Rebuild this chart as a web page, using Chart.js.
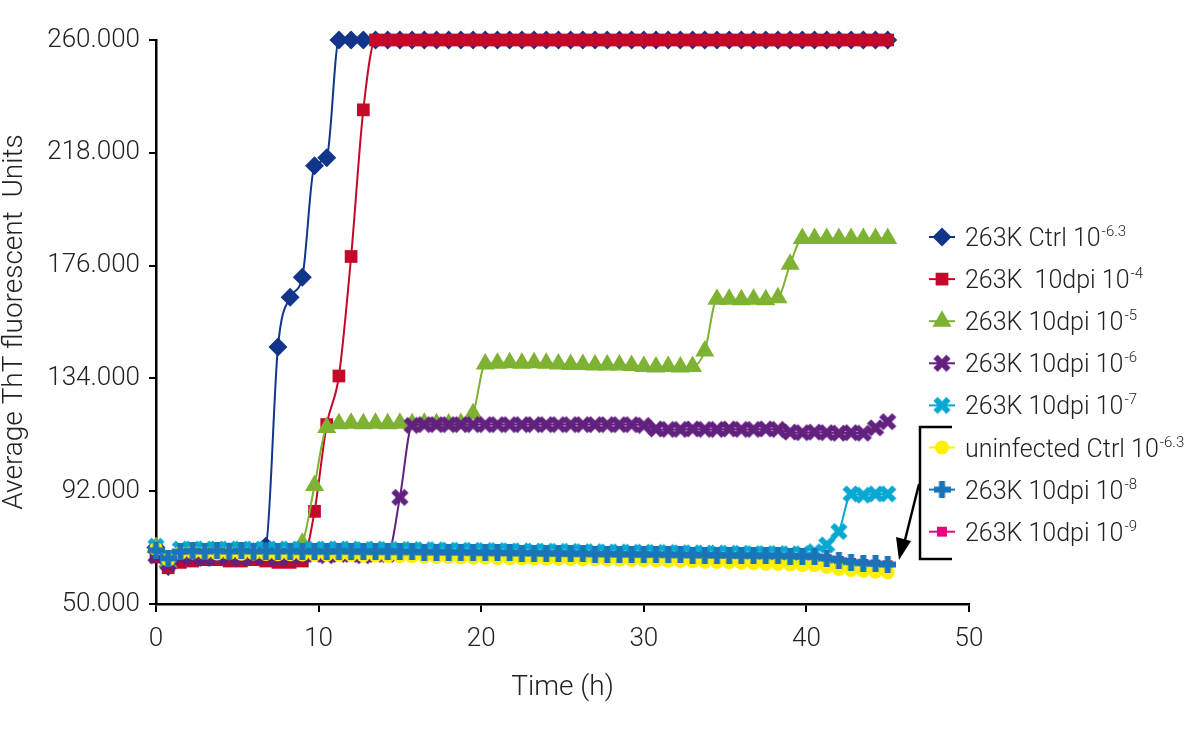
<!DOCTYPE html>
<html>
<head>
<meta charset="utf-8">
<script src="https://cdn.jsdelivr.net/npm/chart.js@4.4.1/dist/chart.umd.min.js"></script>
<style>
  body { margin: 0; background: #fff; }
  #wrap { width: 1200px; height: 732px; position: relative; }
</style>
</head>
<body>
<div id="wrap"><canvas id="thtChart"></canvas></div>
<script>
// time points (h), one reading every 45 min
const times = [0, 0.75, 1.5, 2.25, 3, 3.75, 4.5, 5.25, 6, 6.75, 7.5, 8.25, 9, 9.75, 10.5, 11.25, 12, 12.75, 13.5, 14.25,
  15, 15.75, 16.5, 17.25, 18, 18.75, 19.5, 20.25, 21, 21.75, 22.5, 23.25, 24, 24.75, 25.5, 26.25, 27, 27.75, 28.5, 29.25,
  30, 30.75, 31.5, 32.25, 33, 33.75, 34.5, 35.25, 36, 36.75, 37.5, 38.25, 39, 39.75, 40.5, 41.25, 42, 42.75, 43.5, 44.25, 45];

const seriesNames = ['263K Ctrl 10', '263K  10dpi 10', '263K 10dpi 10', '263K 10dpi 10', '263K 10dpi 10',
  'uninfected Ctrl 10', '263K 10dpi 10', '263K 10dpi 10'];
const seriesExponents = ['-6.3', '-4', '-5', '-6', '-7', '-6.3', '-8', '-9'];

const ctrl63 = [71000, 64000, 68500, 69500, 69000, 69500, 69500, 69000, 69500, 71500, 145700, 164200, 171700, 213200, 216200,
  260000, 260000, 260000, 260000, 260000, 260000, 260000, 260000, 260000, 260000, 260000, 260000, 260000, 260000, 260000,
  260000, 260000, 260000, 260000, 260000, 260000, 260000, 260000, 260000, 260000, 260000, 260000, 260000, 260000, 260000,
  260000, 260000, 260000, 260000, 260000, 260000, 260000, 260000, 260000, 260000, 260000, 260000, 260000, 260000, 260000, 260000];

const dpi4 = [67500, 63500, 65500, 66000, 66500, 66500, 66000, 66000, 66500, 66000, 65500, 65500, 66000, 84500, 116800,
  134900, 179400, 234000, 260000, 260000, 260000, 260000, 260000, 260000, 260000, 260000, 260000, 260000, 260000, 260000,
  260000, 260000, 260000, 260000, 260000, 260000, 260000, 260000, 260000, 260000, 260000, 260000, 260000, 260000, 260000,
  260000, 260000, 260000, 260000, 260000, 260000, 260000, 260000, 260000, 260000, 260000, 260000, 260000, 260000, 260000, 260000];

const dpi5 = [71000, 65500, 68500, 69000, 68500, 69000, 68500, 69000, 68500, 69000, 68500, 69000, 72600, 94100, 115700,
  117100, 117300, 117100, 117300, 117100, 117300, 117100, 117300, 117100, 117000, 117200, 120800, 139400, 139600, 139800,
  139600, 139800, 139600, 139400, 139200, 139200, 139000, 139000, 139000, 138800, 138400, 138200, 138400, 138200, 138400,
  144200, 163500, 163500, 163300, 163500, 163300, 164000, 176500, 186100, 186100, 186100, 186100, 186100, 186100, 186100, 186100];

const dpi6 = [68000, 65000, 67500, 67500, 67000, 67500, 67500, 67000, 67500, 67500, 67000, 67500, 68000, 68500, 68000,
  68500, 68500, 68000, 68500, 68500, 89700, 116500, 116800, 116800, 116800, 116800, 116800, 116800, 116800, 116800,
  116800, 116800, 116800, 116800, 116800, 116800, 116800, 116800, 116800, 116800, 116500, 115200, 115000, 115000, 115200,
  115000, 115000, 115200, 115000, 115000, 115200, 115000, 114000, 113800, 114000, 113800, 113600, 113800, 113600, 115600, 117900];

const dpi7 = [71500, 67500, 70500, 70500, 70500, 70500, 70500, 70500, 70500, 70500, 70500, 70500, 70500, 70500, 70500,
  70500, 70500, 70300, 70500, 70300, 70300, 70300, 70200, 70200, 70100, 70000, 70000, 69900, 69900, 69800,
  69800, 69700, 69700, 69600, 69600, 69500, 69500, 69400, 69400, 69300, 69300, 69200, 69200, 69100, 69100,
  69000, 69000, 68900, 68900, 68800, 68800, 68800, 68700, 68700, 69500, 72000, 77000, 91000, 90500, 91000, 91000];

const uninfected = [70500, 66500, 69000, 69200, 69000, 68800, 68900, 68700, 68800, 68600, 68500, 68500, 68400, 68300, 68300,
  68200, 68200, 68000, 68000, 67900, 67800, 67800, 67600, 67500, 67500, 67300, 67200, 67200, 67000, 67000,
  66900, 66900, 66800, 66800, 66700, 66600, 66600, 66500, 66500, 66400, 66300, 66200, 66100, 66000, 65900,
  65700, 65600, 65500, 65300, 65200, 65000, 64900, 64700, 64500, 64400, 63800, 63000, 62600, 62300, 62000, 61700];

const dpi8 = [70000, 67000, 69500, 69800, 69600, 69800, 69600, 69800, 69600, 69700, 69600, 69700, 69500, 69600, 69500,
  69600, 69500, 69500, 69400, 69500, 69400, 69400, 69300, 69300, 69200, 69200, 69100, 69100, 69000, 69000,
  68900, 68900, 68800, 68800, 68700, 68700, 68600, 68600, 68500, 68500, 68400, 68400, 68300, 68300, 68200,
  68200, 68100, 68100, 68000, 68000, 67900, 67900, 67800, 67700, 67600, 67000, 66300, 65600, 65200, 65000, 64700];

const dpi9 = [69700, 66800, 69200, 69500, 69300, 69500, 69300, 69500, 69300, 69400, 69300, 69400, 69200, 69300, 69200,
  69300, 69200, 69200, 69100, 69200, 69100, 69100, 69000, 69000, 68900, 68900, 68800, 68800, 68700, 68700,
  68600, 68600, 68500, 68500, 68400, 68400, 68300, 68300, 68200, 68200, 68100, 68100, 68000, 68000, 67900,
  67900, 67800, 67800, 67700, 67700, 67600, 67600, 67500, 67400, 67300, 66700, 66000, 65300, 64900, 64700, 64400];

const yTicks = [50000, 92000, 134000, 176000, 218000, 260000];

function pts(vals) {
  return times.map((t, i) => ({ x: t, y: vals[i] }));
}

function fmtThousands(v) {
  return String(v).replace(/\B(?=(\d{3})+(?!\d))/g, '.');
}

// chunky X and + markers like the spreadsheet ones
function markerX(color) {
  const c = document.createElement('canvas');
  c.width = 20; c.height = 20;
  const g = c.getContext('2d');
  g.strokeStyle = color;
  g.lineWidth = 6;
  g.beginPath();
  g.moveTo(3.5, 3.5); g.lineTo(16.5, 16.5);
  g.moveTo(16.5, 3.5); g.lineTo(3.5, 16.5);
  g.stroke();
  return c;
}

function markerPlus(color) {
  const c = document.createElement('canvas');
  c.width = 17; c.height = 17;
  const g = c.getContext('2d');
  g.fillStyle = color;
  g.fillRect(0, 5.5, 17, 6);
  g.fillRect(5.5, 0, 6, 17);
  return c;
}

// series look; later series sit on top like in the original sheet
const looks = [
  { data: ctrl63, color: '#11358a', style: 'rectRot', r: 9.5 },
  { data: dpi4, color: '#c4082a', style: 'rect', r: 9 },
  { data: dpi5, color: '#7db232', style: 'triangle', r: 11 },
  { data: dpi6, color: '#62207f', style: markerX('#62207f'), r: 9 },
  { data: dpi7, color: '#09a8d3', style: markerX('#09a8d3'), r: 9 },
  { data: uninfected, color: '#fff000', style: 'circle', r: 7 },
  { data: dpi8, color: '#1a74b8', style: markerPlus('#1a74b8'), r: 8 },
  { data: dpi9, color: '#e2067f', style: 'rect', r: 7 }
];

const drawOrder = [8, 7, 6, 5, 4, 3, 2, 20];

const datasets = looks.map((s, i) => ({
  label: seriesNames[i] + seriesExponents[i],
  data: pts(s.data),
  borderColor: s.color,
  backgroundColor: s.color,
  borderWidth: 2,
  pointStyle: s.style,
  pointRadius: s.r,
  pointBorderWidth: 0,
  pointBackgroundColor: s.color,
  pointBorderColor: s.color,
  cubicInterpolationMode: 'monotone',
  clip: false,
  order: drawOrder[i]
}));

const FONT = 'Roboto';

const sideLegend = {
  id: 'sideLegend',
  afterDraw(chart) {
    const ctx = chart.ctx;
    ctx.save();
    looks.forEach((s, i) => {
      const y = 237 + i * 42.1;
      ctx.strokeStyle = s.color;
      ctx.fillStyle = s.color;
      ctx.lineWidth = 2;
      ctx.beginPath();
      ctx.moveTo(929, y);
      ctx.lineTo(955, y);
      ctx.stroke();
      ctx.lineWidth = 0;
      Chart.helpers.drawPoint(ctx, { pointStyle: s.style, rotation: 0, radius: s.r, borderWidth: 0 }, 942, y);
      ctx.fillStyle = '#222';
      ctx.textBaseline = 'alphabetic';
      ctx.textAlign = 'left';
      ctx.font = '300 25px ' + FONT;
      ctx.fillText(seriesNames[i], 965, y + 9);
      const w = ctx.measureText(seriesNames[i]).width;
      ctx.font = '300 15px ' + FONT;
      ctx.fillText(seriesExponents[i], 965 + w + 1, y - 1);
    });
    // bracket around the three overlapping baseline series with arrow
    ctx.strokeStyle = '#000';
    ctx.fillStyle = '#000';
    ctx.lineWidth = 2.5;
    ctx.beginPath();
    ctx.moveTo(952, 427);
    ctx.lineTo(920, 427);
    ctx.lineTo(920, 559);
    ctx.lineTo(952, 559);
    ctx.stroke();
    ctx.beginPath();
    ctx.moveTo(919, 484);
    ctx.lineTo(905, 540);
    ctx.stroke();
    ctx.beginPath();
    ctx.moveTo(899, 560);
    ctx.lineTo(896, 537);
    ctx.lineTo(911, 541);
    ctx.closePath();
    ctx.fill();
    ctx.restore();
  }
};

new Chart(document.getElementById('thtChart'), {
  type: 'line',
  data: { datasets: datasets },
  options: {
    responsive: true,
    maintainAspectRatio: false,
    animation: false,
    events: [],
    layout: { padding: { left: 0, top: 40, right: 231, bottom: 0 } },
    plugins: {
      legend: { display: false },
      tooltip: { enabled: false }
    },
    scales: {
      x: {
        type: 'linear',
        min: 0,
        max: 50,
        afterFit: (s) => { s.height = 128; },
        border: { display: true, color: '#000', width: 2.5 },
        grid: { drawOnChartArea: false, drawTicks: true, tickLength: 8, color: '#000', lineWidth: 2 },
        ticks: { stepSize: 10, padding: 12, color: '#222', font: { family: FONT, size: 26, weight: '300' } },
        title: { display: true, text: 'Time (h)', color: '#222', padding: { top: 0, bottom: 27 },
          font: { family: FONT, size: 28, weight: '300' } }
      },
      y: {
        min: 50000,
        max: 260000,
        afterFit: (s) => { s.width = 156; },
        afterBuildTicks: (s) => { s.ticks = yTicks.map(v => ({ value: v })); },
        border: { display: true, color: '#000', width: 2.5 },
        grid: { drawOnChartArea: false, drawTicks: true, tickLength: 7, color: '#000', lineWidth: 2 },
        ticks: { padding: 9, color: '#222', font: { family: FONT, size: 26, weight: '300' },
          callback: (v) => fmtThousands(v) },
        title: { display: true, text: 'Average ThT fluorescent  Units', color: '#222', padding: { top: -2, bottom: 0 },
          font: { family: FONT, size: 28, weight: '300' } }
      }
    }
  },
  plugins: [sideLegend]
});
</script>
</body>
</html>
